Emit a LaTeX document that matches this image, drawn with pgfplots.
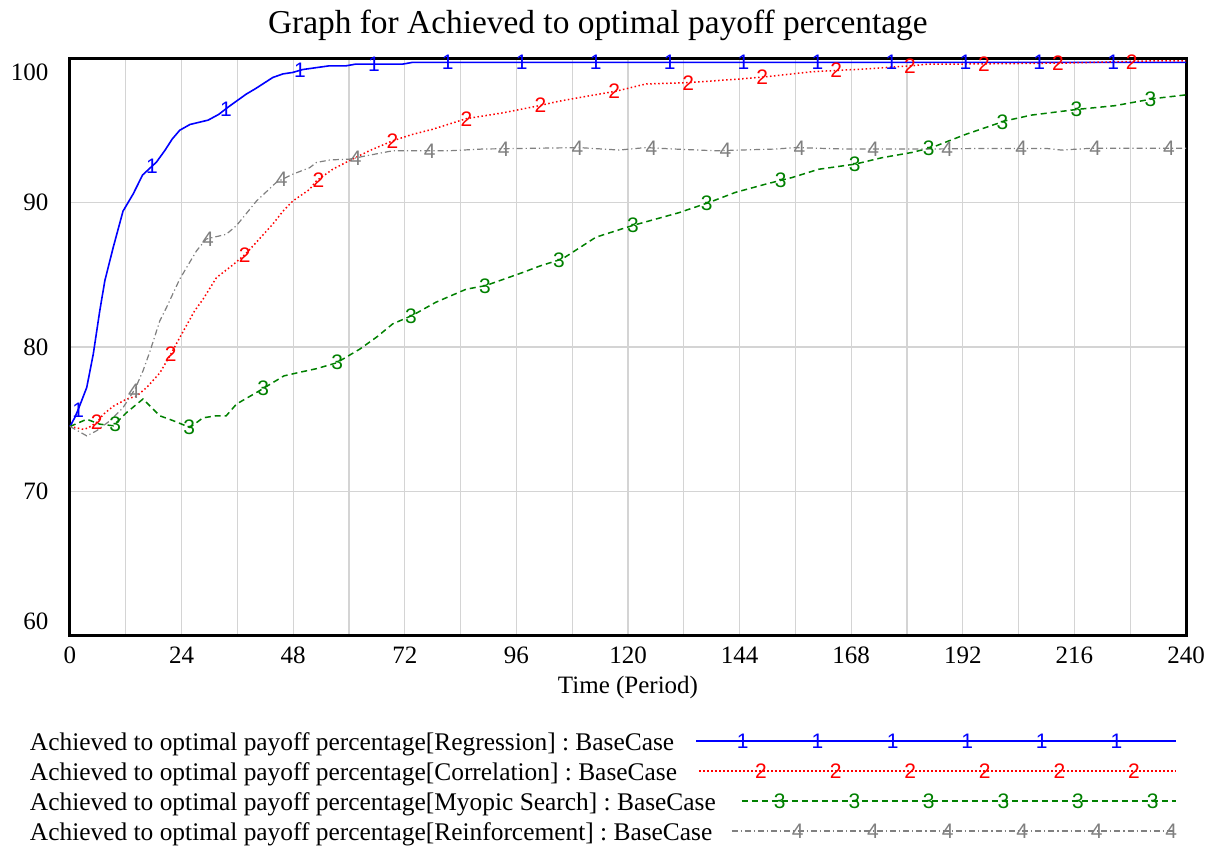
\documentclass[border=0pt]{standalone}
\usepackage{pgfplots}
\pgfplotsset{compat=1.18}
\usepackage{fontspec}
\setmainfont{Liberation Serif}
\newfontfamily\numfont{Liberation Sans}
\frenchspacing
\definecolor{vblue}{RGB}{0,0,255}
\definecolor{vred}{RGB}{255,0,0}
\definecolor{vgreen}{RGB}{0,128,0}
\definecolor{vgray}{RGB}{128,128,128}
\definecolor{gridgray}{RGB}{212,212,212}
\newcommand{\mk}{\numfont\fontsize{10.5}{10.5}\selectfont}
\tikzset{lnum/.style={inner sep=0pt, text height=7.5pt, text depth=0pt, font=\mk}}
\pgfplotsset{
  legA/.style={legend image code/.code={
    \draw[##1] (-240pt,1.5pt) -- (0pt,1.5pt);
    \foreach \p in {-219.6,-182.3,-144.7,-107.4,-70.1,-32.8}{\node[lnum, text=vblue] at (\p pt,1.5pt) {1};}
  }},
  legB/.style={legend image code/.code={
    \draw[##1] (-238.5pt,1.5pt) -- (0pt,1.5pt);
    \foreach \p in {-210.5,-173.2,-135.9,-98.6,-61.3,-24.0}{\node[lnum, text=vred] at (\p pt,1.5pt) {2};}
  }},
  legC/.style={legend image code/.code={
    \draw[##1] (-217.3pt,1.5pt) -- (0pt,1.5pt);
    \foreach \p in {-201.1,-163.8,-126.6,-89.3,-52.0,-14.7}{\node[lnum, text=vgreen] at (\p pt,1.5pt) {3};}
  }},
  legD/.style={legend image code/.code={
    \draw[##1] (-222.3pt,1.5pt) -- (0pt,1.5pt);
    \foreach \p in {-192.1,-154.5,-117.2,-79.9,-42.6,-5.4}{\node[lnum, text=vgray] at (\p pt,1.5pt) {4};}
  }},
}
\begin{document}
\begin{tikzpicture}
\begin{axis}[
  scale only axis, width=558pt, height=289pt,
  xmin=0, xmax=240, ymin=60, ymax=100,
  xtick={0,24,...,240}, ytick={60,70,80,90,100},
  minor x tick num=1,
  yticklabels={{\raisebox{7.5pt}[\height][\depth]{60}},70,80,90,{\raisebox{-7pt}[\height][\depth]{100}}},
  /pgf/number format/assume math mode=true,
  major tick length=0pt, minor tick length=0pt,
  grid=both,
  grid style={gridgray, line width=0.6pt},
  minor grid style={gridgray, line width=0.6pt},
  axis line style={black, line width=1.5pt},
  ticklabel style={font=\fontsize{12.5}{15}\selectfont},
  yticklabel style={xshift=-7.3pt},
  xticklabel style={yshift=-1.8pt},
  xlabel={Time (Period)},
  xlabel style={at={(axis description cs:0.5,0)}, anchor=base, yshift=-28.5pt, font=\fontsize{12.5}{15}\selectfont},
  title={Graph for Achieved to optimal payoff percentage},
  every axis title shift=0pt,
  title style={at={(axis description cs:0.473,1)}, anchor=base, yshift=12.5pt, font=\fontsize{16.7}{20}\selectfont},
  clip=false,
  legend cell align=left,
  legend plot pos=right,
  legend style={at={(axis description cs:0,0)}, anchor=north west, xshift=-20pt, yshift=-48pt,
    draw=none, fill=none, inner sep=0pt, outer sep=0pt, column sep=-10.2pt, row sep=3pt,
    nodes={inner sep=0pt, text height=9pt, text depth=3pt, font=\fontsize{12.7}{15}\selectfont}},
]
\coordinate (SW) at (rel axis cs:0,0);

% Regression
\addplot[vblue, line width=0.8pt, legA] coordinates {
(0,74.5) (1,75.1) (1.8,75.7) (3.6,77.2) (5,79.5) (6.4,82.5) (7.5,84.6) (9.3,86.9) (11.4,89.4) (13.6,90.6) (15.6,91.9) (18.6,92.8) (20.4,93.6) (22,94.4) (23.6,95.0) (25.8,95.4) (29.7,95.7) (32,96.1) (34,96.6) (37.9,97.5) (40,97.9) (43.6,98.65) (45.8,98.9) (47.9,99.0) (50,99.2) (55.8,99.46) (59.4,99.46) (61.5,99.58) (71.6,99.58) (73.7,99.7) (240,99.7)
};
\addlegendentry{Achieved to optimal payoff percentage[Regression] : BaseCase}

% Correlation
\addplot[vred, line width=0.75pt, dash pattern=on 0.75pt off 1.25pt, legB] coordinates {
(0,74.5) (2.9,74.3) (3.9,74.4) (5.8,74.8) (7.2,75.35) (9.3,75.9) (12.2,76.4) (14.3,76.6) (16.5,77.2) (19.3,78.2) (21.5,79.4) (23.6,80.65) (26.8,82.5) (28.6,83.3) (31.5,84.8) (35.1,85.7) (37.8,86.45) (40.5,87.4) (43.6,88.5) (45.8,89.4) (47.9,90.1) (51.5,90.9) (53,91.5) (56.5,92.3) (60.1,92.9) (64.5,93.6) (69.4,94.27) (73.5,94.7) (78,95.07) (85.2,95.8) (93,96.2) (100.9,96.7) (105,97.0) (110.2,97.3) (117.4,97.7) (123.8,98.2) (133.1,98.3) (143.8,98.54) (149.6,98.7) (159.6,99.05) (170.3,99.23) (181,99.46) (184.6,99.58) (191,99.58) (214,99.65) (232.5,99.8) (240,99.8)
};
\addlegendentry{Achieved to optimal payoff percentage[Correlation] : BaseCase}

% Myopic Search
\addplot[vgreen, line width=0.75pt, dash pattern=on 3pt off 2pt, legC] coordinates {
(0,74.5) (3.6,75.0) (6.4,74.66) (9.3,74.55) (12.2,75.47) (15.7,76.4) (19.3,75.24) (22.2,74.9) (25.8,74.43) (28.6,75.1) (31.5,75.24) (33.6,75.24) (35.8,76.05) (40.1,76.85) (41.4,77.1) (46,78.0) (49.4,78.25) (53,78.5) (57.3,78.9) (62.3,79.85) (66,80.7) (69.4,81.6) (73.7,82.2) (78.7,83.1) (85.2,84.0) (89.4,84.25) (97.3,85.15) (101,85.6) (105.9,86.1) (113.1,87.6) (120.9,88.4) (131,89.3) (137.4,90.0) (143.1,90.7) (149.6,91.27) (155.3,91.73) (161,92.3) (168.9,92.66) (174.6,93.1) (181,93.46) (185.3,93.8) (192.5,94.7) (201.1,95.65) (206.8,96.05) (216.8,96.45) (224.7,96.7) (233.3,97.2) (240,97.45)
};
\addlegendentry{Achieved to optimal payoff percentage[Myopic Search] : BaseCase}

% Reinforcement
\addplot[vgray, line width=0.6pt, dash pattern=on 3pt off 1.5pt on 0.6pt off 1.5pt, legD] coordinates {
(0,74.5) (3.6,73.85) (5.7,74.2) (8.6,74.9) (11.4,75.8) (14,77.1) (15.7,78.35) (17.2,79.7) (19.3,81.8) (20.7,82.7) (23.6,84.7) (27.2,86.65) (29.3,87.47) (33.6,87.8) (35.8,88.4) (40.1,90.1) (44.4,91.4) (47.9,91.96) (51.5,92.4) (53,92.77) (56,92.95) (60.1,93.0) (64,93.25) (69.4,93.58) (81.5,93.58) (88.7,93.7) (109.5,93.8) (118.1,93.63) (123.8,93.8) (130,93.7) (138.8,93.58) (151.7,93.7) (156,93.8) (166.7,93.7) (184.6,93.7) (196,93.74) (210,93.74) (213.2,93.63) (220,93.76) (240,93.76)
};
\addlegendentry{Achieved to optimal payoff percentage[Reinforcement] : BaseCase}

% number labels along the curves
\addplot[forget plot, only marks, vblue, mark=text, text mark={1}, text mark as node=true,
  text mark style={lnum, text=vblue}] coordinates {
(1.75,75.65) (17.65,92.5) (33.55,96.5) (49.45,99.15) (65.35,99.58) (81.25,99.7) (97.15,99.7) (113.05,99.7) (128.95,99.7) (144.85,99.7) (160.75,99.7) (176.65,99.7) (192.55,99.7) (208.45,99.7) (224.35,99.7)
};
\addplot[forget plot, only marks, vred, mark=text, text mark={2}, text mark as node=true,
  text mark style={lnum, text=vred}] coordinates {
(5.75,74.8) (21.65,79.5) (37.55,86.4) (53.45,91.55) (69.35,94.25) (85.25,95.8) (101.15,96.72) (117.05,97.7) (132.95,98.3) (148.85,98.68) (164.75,99.15) (180.65,99.45) (196.55,99.6) (212.45,99.65) (228.35,99.75)
};
\addplot[forget plot, only marks, vgreen, mark=text, text mark={3}, text mark as node=true,
  text mark style={lnum, text=vgreen}] coordinates {
(9.75,74.69) (25.65,74.45) (41.55,77.13) (57.45,78.93) (73.35,82.15) (89.25,84.24) (105.15,86.02) (121.05,88.41) (136.95,89.95) (152.85,91.53) (168.75,92.65) (184.65,93.75) (200.55,95.59) (216.45,96.44) (232.35,97.14)
};
\addplot[forget plot, only marks, vgray, mark=text, text mark={4}, text mark as node=true,
  text mark style={lnum, text=vgray}] coordinates {
(13.75,76.98) (29.65,87.5) (45.55,91.6) (61.45,93.09) (77.35,93.58) (93.25,93.72) (109.15,93.8) (125.05,93.78) (140.95,93.6) (156.85,93.79) (172.75,93.7) (188.65,93.71) (204.55,93.74) (220.45,93.76) (236.35,93.76)
};
\end{axis}
\pgfresetboundingbox
\path[use as bounding box] ([shift={(-35pt,-105pt)}]SW) rectangle ([shift={(570.5pt,318pt)}]SW);
\end{tikzpicture}
\end{document}
